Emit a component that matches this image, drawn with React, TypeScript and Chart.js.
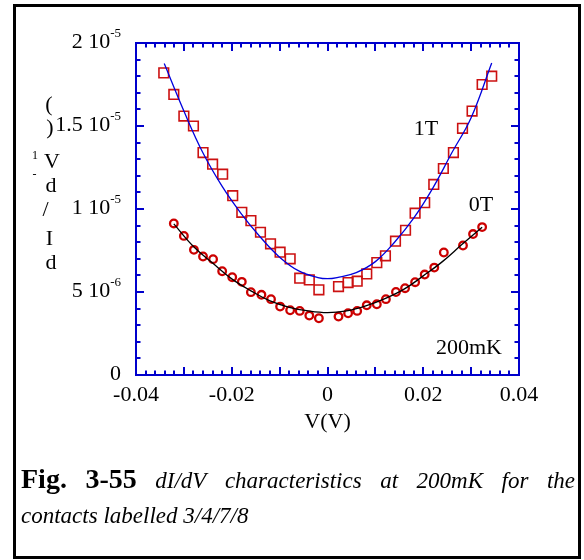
import React, { useEffect, useRef } from "react";
import { Chart, registerables } from "chart.js";
Chart.register(...registerables);

// ---- data (conductance in units of 1e-6 Ω^-1, bias in V) ----
const v1T = [-0.0342, -0.0321, -0.03, -0.028, -0.026, -0.024, -0.0219, -0.0198, -0.0179, -0.016, -0.014, -0.0119, -0.0099, -0.0078, -0.0058, -0.0038, -0.0018,
  0.0023, 0.0043, 0.0062, 0.0082, 0.0103, 0.0121, 0.0142, 0.0163, 0.0183, 0.0203, 0.0222, 0.0242, 0.0263, 0.0282, 0.0302, 0.0323, 0.0343];
const g1T = [18.2, 16.9, 15.6, 15.0, 13.4, 12.7, 12.1, 10.8, 9.8, 9.3, 8.6, 7.9, 7.4, 7.0, 5.83, 5.73, 5.13,
  5.33, 5.57, 5.65, 6.09, 6.77, 7.18, 8.06, 8.72, 9.75, 10.38, 11.48, 12.44, 13.4, 14.86, 15.9, 17.5, 18.0];

const v0T = [-0.0321, -0.03, -0.0279, -0.026, -0.0239, -0.022, -0.0199, -0.0179, -0.016, -0.0138, -0.0118, -0.0099, -0.0078, -0.0058, -0.0038, -0.0018,
  0.0023, 0.0043, 0.0062, 0.0082, 0.0103, 0.0122, 0.0143, 0.0162, 0.0183, 0.0203, 0.0223, 0.0243, 0.0283, 0.0304, 0.0323];
const g0T = [9.13, 8.38, 7.54, 7.14, 6.98, 6.25, 5.89, 5.61, 4.99, 4.83, 4.57, 4.12, 3.9, 3.86, 3.58, 3.42,
  3.52, 3.72, 3.86, 4.2, 4.26, 4.57, 5.0, 5.23, 5.59, 6.05, 6.47, 7.38, 7.8, 8.49, 8.91];

const fit1T_V = [-0.0341, -0.03, -0.026, -0.022, -0.018, -0.014, -0.01, -0.006, -0.002, 0, 0.002, 0.006, 0.01, 0.014, 0.018, 0.022, 0.026, 0.03, 0.0343];
const fit1T_G = [18.76, 15.9, 13.37, 11.36, 9.71, 8.3, 7.1, 6.27, 5.87, 5.8, 5.87, 6.17, 6.83, 8.0, 9.45, 11.26, 13.4, 15.5, 18.8];

const fit0T_V = [-0.0321, -0.028, -0.024, -0.02, -0.016, -0.012, -0.008, -0.004, 0, 0.004, 0.008, 0.012, 0.016, 0.02, 0.024, 0.028, 0.0323];
const fit0T_G = [9.1, 7.74, 6.74, 5.79, 5.07, 4.46, 4.08, 3.86, 3.76, 3.86, 4.16, 4.6, 5.17, 5.97, 6.83, 7.84, 8.9];

const xTickValues = [-0.04, -0.02, 0, 0.02, 0.04];
const xTickLabels = ["-0.04", "-0.02", "0", "0.02", "0.04"];
const yTickValues = [0, 5e-6, 1e-5, 1.5e-5, 2e-5];
const yTickMain = ["0", "5 10", "1 10", "1.5 10", "2 10"];
const yTickSup = ["", "-6", "-5", "-5", "-5"];

const SCALE = 1e-6;
const toPts = (xs: number[], ys: number[]) => xs.map((x, i) => ({ x, y: ys[i] * SCALE }));

const SERIF = '"Liberation Serif", "Times New Roman", serif';
const AXIS_BLUE = "#0000cc";

const decorPlugin = {
  id: "decor",
  afterDraw(chart: any) {
    const ctx = chart.ctx as CanvasRenderingContext2D;
    const { left, right, top, bottom } = chart.chartArea;
    const xs = chart.scales.x;
    const ys = chart.scales.y;
    ctx.save();

    // outer black border
    ctx.strokeStyle = "#000";
    ctx.lineWidth = 3;
    ctx.strokeRect(14.5, 5.5, 565, 552);

    // plot frame
    ctx.strokeStyle = AXIS_BLUE;
    ctx.lineWidth = 2;
    ctx.strokeRect(left, top, right - left, bottom - top);

    // x ticks (major every 0.01, minor every 0.002), on bottom and top
    ctx.lineWidth = 2;
    for (let i = -20; i <= 20; i++) {
      const px = Math.round(xs.getPixelForValue(i * 0.002));
      const len = i % 5 === 0 ? 8 : 4.5;
      ctx.beginPath();
      ctx.moveTo(px, bottom);
      ctx.lineTo(px, bottom - len);
      ctx.moveTo(px, top);
      ctx.lineTo(px, top + len);
      ctx.stroke();
    }
    // y ticks (major every 5e-6, minor every 1e-6), on left and right
    for (let j = 0; j <= 20; j++) {
      const py = Math.round(ys.getPixelForValue(j * 1e-6));
      const len = j % 5 === 0 ? 8 : 4.5;
      ctx.beginPath();
      ctx.moveTo(left, py);
      ctx.lineTo(left + len, py);
      ctx.moveTo(right, py);
      ctx.lineTo(right - len, py);
      ctx.stroke();
    }

    ctx.fillStyle = "#000";
    // x tick labels
    ctx.font = `22px ${SERIF}`;
    ctx.textAlign = "center";
    ctx.textBaseline = "alphabetic";
    xTickValues.forEach((v, i) => {
      ctx.fillText(xTickLabels[i], xs.getPixelForValue(v), bottom + 26);
    });
    // x title
    ctx.fillText("V(V)", (left + right) / 2, bottom + 53);

    // y tick labels with superscripts
    const rightEdge = left - 15;
    yTickValues.forEach((v, i) => {
      const py = ys.getPixelForValue(v) + 5;
      ctx.font = `13px ${SERIF}`;
      const sw = yTickSup[i] ? ctx.measureText(yTickSup[i]).width : 0;
      ctx.textAlign = "left";
      if (yTickSup[i]) ctx.fillText(yTickSup[i], rightEdge - sw, py - 11);
      ctx.font = `22px ${SERIF}`;
      ctx.textAlign = "right";
      ctx.fillText(yTickMain[i], rightEdge - sw, py);
    });

    // garbled vertical y-axis title, character by character
    const glyphs: [string, number, number, number][] = [
      ["(", 49, 111, 22],
      [")", 50, 134, 22],
      ["1", 35, 159, 12],
      ["V", 52, 167.5, 22],
      ["-", 34.5, 178, 12],
      ["d", 51, 191.5, 22],
      ["/", 45.5, 216, 22],
      ["I", 49.5, 244.5, 22],
      ["d", 51, 268.5, 22],
    ];
    ctx.textAlign = "center";
    glyphs.forEach(([ch, gx, gy, size]) => {
      ctx.font = `${size}px ${SERIF}`;
      ctx.fillText(ch, gx, gy);
    });

    // annotations
    ctx.font = `22px ${SERIF}`;
    ctx.fillText("1T", 426, 134.5);
    ctx.fillText("0T", 481, 210.5);
    ctx.fillText("200mK", 469, 353.5);

    // caption (justified first line)
    const BOLD = `bold 28px ${SERIF}`;
    const ITAL = `italic 23px ${SERIF}`;
    const words: [string, string][] = [
      ["Fig.", BOLD],
      ["3-55", BOLD],
      ["dI/dV", ITAL],
      ["characteristics", ITAL],
      ["at", ITAL],
      ["200mK", ITAL],
      ["for", ITAL],
      ["the", ITAL],
    ];
    const x0 = 21, x1 = 575;
    let total = 0;
    const widths = words.map(([w, f]) => {
      ctx.font = f;
      const mw = ctx.measureText(w).width;
      total += mw;
      return mw;
    });
    const gap = (x1 - x0 - total) / (words.length - 1);
    let cx = x0;
    ctx.textAlign = "left";
    words.forEach(([w, f], i) => {
      ctx.font = f;
      ctx.fillText(w, cx, 488);
      cx += widths[i] + gap;
    });
    ctx.font = ITAL;
    ctx.fillText("contacts labelled 3/4/7/8", 21, 523);

    ctx.restore();
  },
};

export default function App() {
  const ref = useRef<HTMLCanvasElement | null>(null);
  useEffect(() => {
    if (!ref.current) return;
    const chart = new Chart(ref.current, {
      type: "scatter",
      data: {
        datasets: [
          {
            label: "fit 1T",
            data: toPts(fit1T_V, fit1T_G),
            showLine: true,
            borderColor: "#0000dd",
            borderWidth: 1.3,
            pointRadius: 0,
            tension: 0.4,
          },
          {
            label: "fit 0T",
            data: toPts(fit0T_V, fit0T_G),
            showLine: true,
            borderColor: "#000000",
            borderWidth: 1.3,
            pointRadius: 0,
            tension: 0.4,
          },
          {
            label: "1T",
            data: toPts(v1T, g1T),
            pointStyle: "rect",
            pointRadius: 6.8,
            borderColor: "#cc1111",
            backgroundColor: "rgba(0,0,0,0)",
            borderWidth: 1.6,
            showLine: false,
          },
          {
            label: "0T",
            data: toPts(v0T, g0T),
            pointStyle: "circle",
            pointRadius: 3.8,
            borderColor: "#cc0000",
            backgroundColor: "rgba(0,0,0,0)",
            borderWidth: 2.3,
            showLine: false,
          },
        ],
      },
      options: {
        animation: false,
        responsive: false,
        devicePixelRatio: 1,
        layout: { padding: { left: 136, right: 65, top: 43, bottom: 185 } },
        plugins: { legend: { display: false }, tooltip: { enabled: false } },
        scales: {
          x: { type: "linear", min: -0.04, max: 0.04, display: false },
          y: { type: "linear", min: 0, max: 2e-5, display: false },
        },
      },
      plugins: [decorPlugin],
    });
    return () => chart.destroy();
  }, []);
  return (
    <div style={{ position: "fixed", left: 0, top: 0, width: 584, height: 560, background: "#fff" }}>
      <canvas ref={ref} width={584} height={560} style={{ display: "block" }} />
    </div>
  );
}
